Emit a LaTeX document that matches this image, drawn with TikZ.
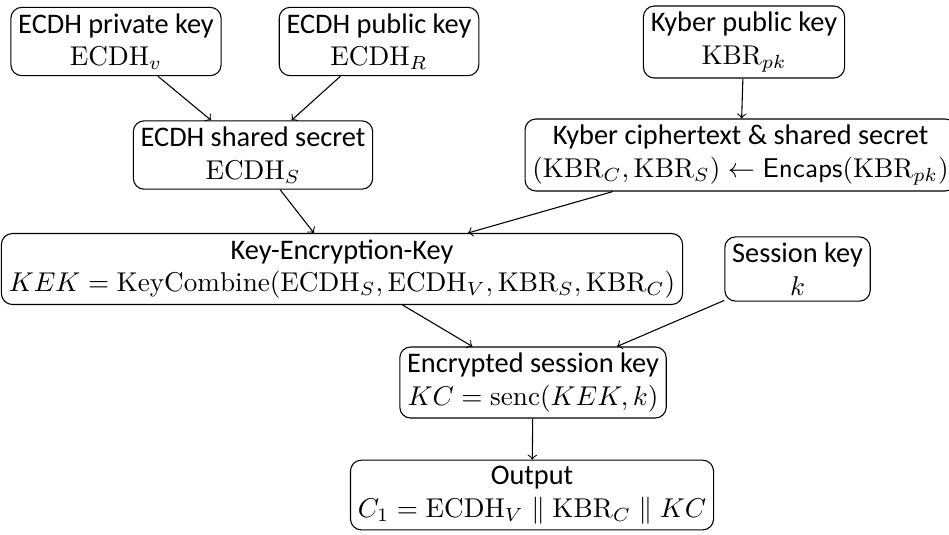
\documentclass[tikz,border=0pt]{standalone}
\usepackage{fontspec}
\newfontfamily\labelfont{Carlito}
\newcommand\mth[1]{{\fontsize{10}{12}\selectfont$#1$}}
\begin{document}
\begin{tikzpicture}[x=0.368pt,y=-0.368pt,
  box/.style={draw, rounded corners=4pt, align=center, inner xsep=2.7pt, inner ysep=2.2pt, font={\labelfont\fontsize{10.43}{12}\selectfont}},
  conn/.style={->, >=to}]
\useasboundingbox (0,0) rectangle (949,534);
\node[box] (priv) at (116,41.5) {ECDH private key\\ \mth{\mathrm{ECDH}_v}};
\node[box] (pub) at (379,41.5) {ECDH public key\\ \mth{\mathrm{ECDH}_R}};
\node[box] (kpub) at (744,42) {Kyber public key\\ \mth{\mathrm{KBR}_{pk}}};
\node[box] (shared) at (253,155) {ECDH shared secret\\ \mth{\mathrm{ECDH}_S}};
\node[box] (kct) at (740.5,155) {Kyber ciphertext \& shared secret\\ \mth{(\mathrm{KBR}_C,\mathrm{KBR}_S)\leftarrow\mathsf{Encaps}(\mathrm{KBR}_{pk})}};
\node[box] (kek) at (342,269) {Key-Encryption-Key\\ \mth{KEK=\mathrm{KeyCombine}(\mathrm{ECDH}_S,\mathrm{ECDH}_V,\mathrm{KBR}_S,\mathrm{KBR}_C)}};
\node[box] (sess) at (797.5,269) {Session key\\ \mth{k}};
\node[box] (enc) at (533,382.5) {Encrypted session key\\ \mth{KC=\mathrm{senc}(KEK,k)}};
\node[box] (out) at (532,495) {Output\\ \mth{C_1=\mathrm{ECDH}_V\parallel\mathrm{KBR}_C\parallel KC}};
\draw[conn] (priv) -- (shared);
\draw[conn] (pub) -- (shared);
\draw[conn] (kpub) -- (kct);
\draw[conn] (shared) -- (kek);
\draw[conn] (kct) -- (kek);
\draw[conn] (kek) -- (enc);
\draw[conn] (sess) -- (enc);
\draw[conn] (enc) -- (out);
\end{tikzpicture}
\end{document}
